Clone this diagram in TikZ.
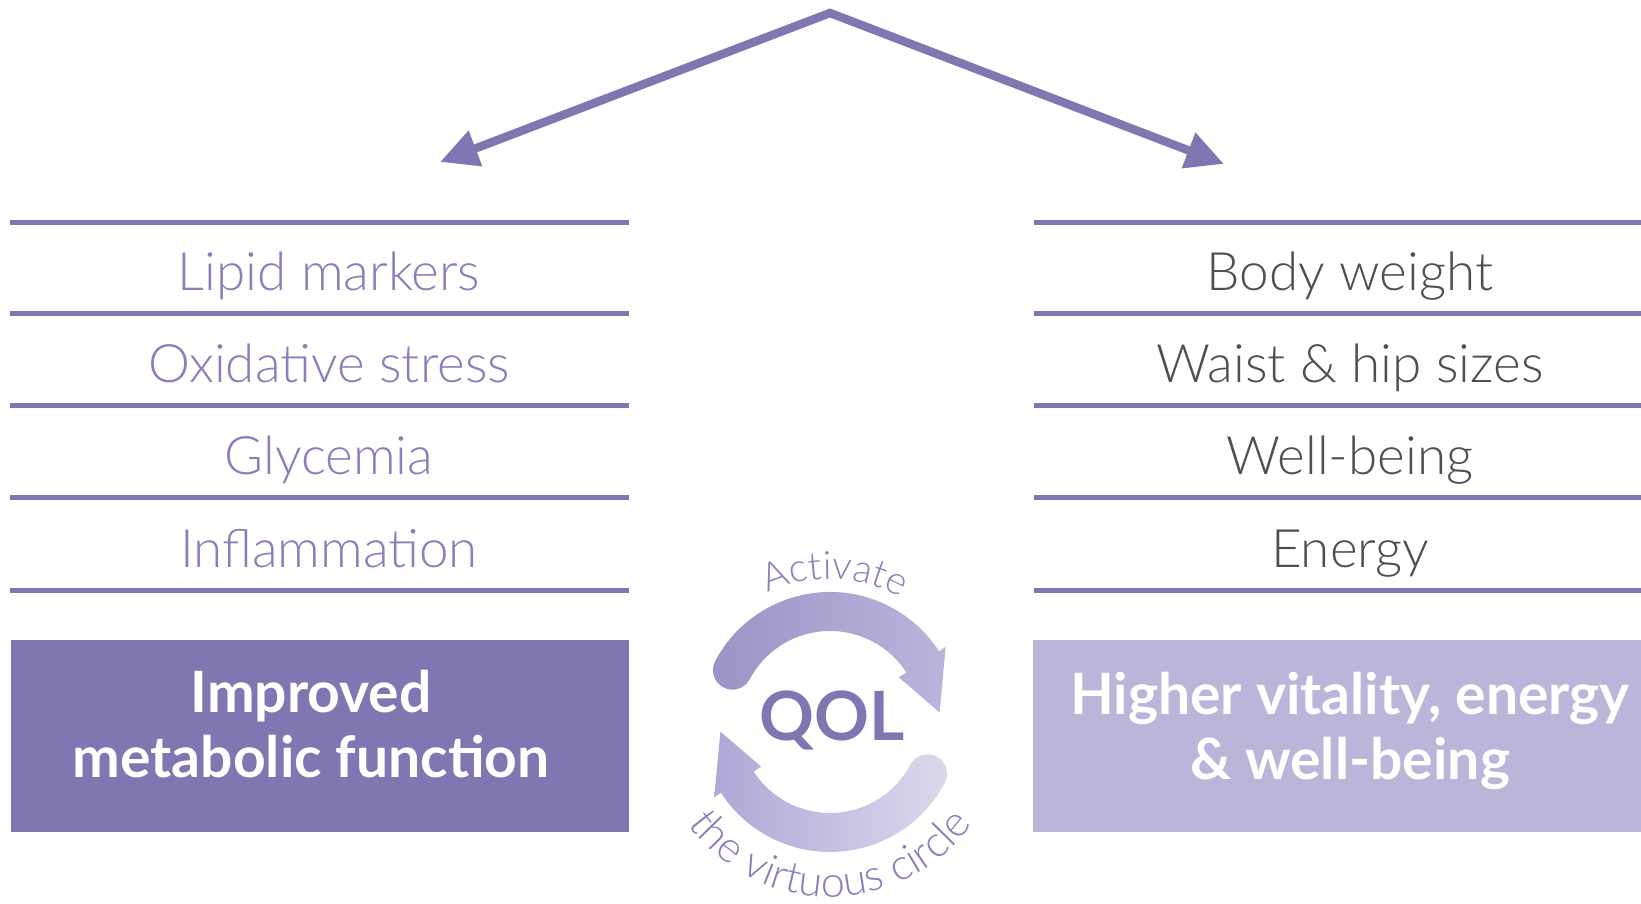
\documentclass[tikz,border=0pt]{standalone}
\usepackage{fontspec}
\setmainfont{Lato}
\newfontfamily\finafont{Lato Light}
\usepackage{tikz}
\usetikzlibrary{arrows.meta}
\usetikzlibrary{decorations.text}

\definecolor{morado}{HTML}{7F77B1}
\definecolor{lila}{HTML}{BAB6D9}
\definecolor{textomorado}{HTML}{8780BA}
\definecolor{gris}{HTML}{4F4F4F}
\definecolor{flechaA}{HTML}{9A94C6}
\definecolor{flechaB}{HTML}{BAB5DC}
\definecolor{flechaC}{HTML}{ADA8D6}
\definecolor{flechaD}{HTML}{DCD9ED}

\tikzset{
  raya/.style={draw=morado, line width=5pt},
  item/.style={font=\finafont\fontsize{53}{60}\selectfont, anchor=base, inner sep=0pt},
  caja/.style={minimum width=618.5pt, minimum height=191.5pt, inner sep=0pt},
  titulo/.style={font=\bfseries\fontsize{57}{65}\selectfont, text=white, align=center, inner sep=0pt}
}

\begin{document}
\begin{tikzpicture}[x=1pt, y=1pt]
              \useasboundingbox (0,0) rectangle (1641,904);

              % Flechas
              \coordinate (apex) at (830,891);
              \coordinate (ltip) at (440,742);
              \coordinate (rtip) at (1224,740);
              \draw[morado, line width=8.5pt, line join=miter,
                {Triangle[length=38pt,width=36pt]}-{Triangle[length=38pt,width=36pt]}]
                (ltip) -- (apex) -- (rtip);

              % Rayas
              \foreach \y in {681,590,498,406,313} {
                \draw[raya] (10,\y) -- (629,\y);
                \draw[raya] (1034,\y) -- (1641,\y);
              }

              % Nodos
              \node[item, text=textomorado] (lip) at (329,613) {Lipid markers};
              \node[item, text=textomorado] (oxi) at (329,521) {Oxidative stress};
              \node[item, text=textomorado] (gly) at (329,429) {Glycemia};
              \node[item, text=textomorado] (infl) at (329,336) {Inflammation};
              \node[item, text=gris] (body) at (1350,613) {Body weight};
              \node[item, text=gris] (waist) at (1350,521) {Waist \& hip sizes};
              \node[item, text=gris] (well) at (1350,429) {Well-being};
              \node[item, text=gris] (ener) at (1350,336) {Energy};

              % Cajas
              \node[caja, fill=morado] (cajaizq) at (319.75,167.75) {};
              \node[caja, fill=lila, minimum width=608pt] (cajader) at (1337,167.75) {};
              \node[titulo] (metab) at (311,180) {Improved\\metabolic function};
              \node[titulo] (vital) at (1350,173) {Higher vitality, energy\\\& well-being};

              % Circulo
              \coordinate (centro) at (830,182);
              \begin{scope}[shift={(centro)}]
                \shade[left color=flechaA, right color=flechaB]
                  (152:130) arc[start angle=152, end angle=33, radius=130]
                  -- (33:138) -- (5:110) -- (33:82) -- (33:91)
                  arc[start angle=33, end angle=152, radius=91]
                  arc[start angle=332, end angle=152, radius=19.5] -- cycle;
                \shade[left color=flechaC, right color=flechaD]
                  (332:130) arc[start angle=332, end angle=213, radius=130]
                  -- (213:138) -- (185:110) -- (213:82) -- (213:91)
                  arc[start angle=213, end angle=332, radius=91]
                  arc[start angle=152, end angle=-28, radius=19.5] -- cycle;
                \path[decorate, decoration={text along path, text align=center,
                  text color=textomorado,
                  text={|\finafont\fontsize{39}{39}\selectfont|Activate}}]
                  (122:143) arc[start angle=122, end angle=54, radius=143];
                \path[decorate, decoration={text along path, text align=center,
                  text color=textomorado,
                  text={|\finafont\fontsize{43}{43}\selectfont|the virtuous circle}}]
                  (197:175) arc[start angle=197, end angle=343, radius=175];
              \end{scope}
              \node[font=\bfseries\fontsize{68}{68}\selectfont, text=morado, inner sep=0pt] (qol) at (832,184) {QOL};
            \end{tikzpicture}
\end{document}
